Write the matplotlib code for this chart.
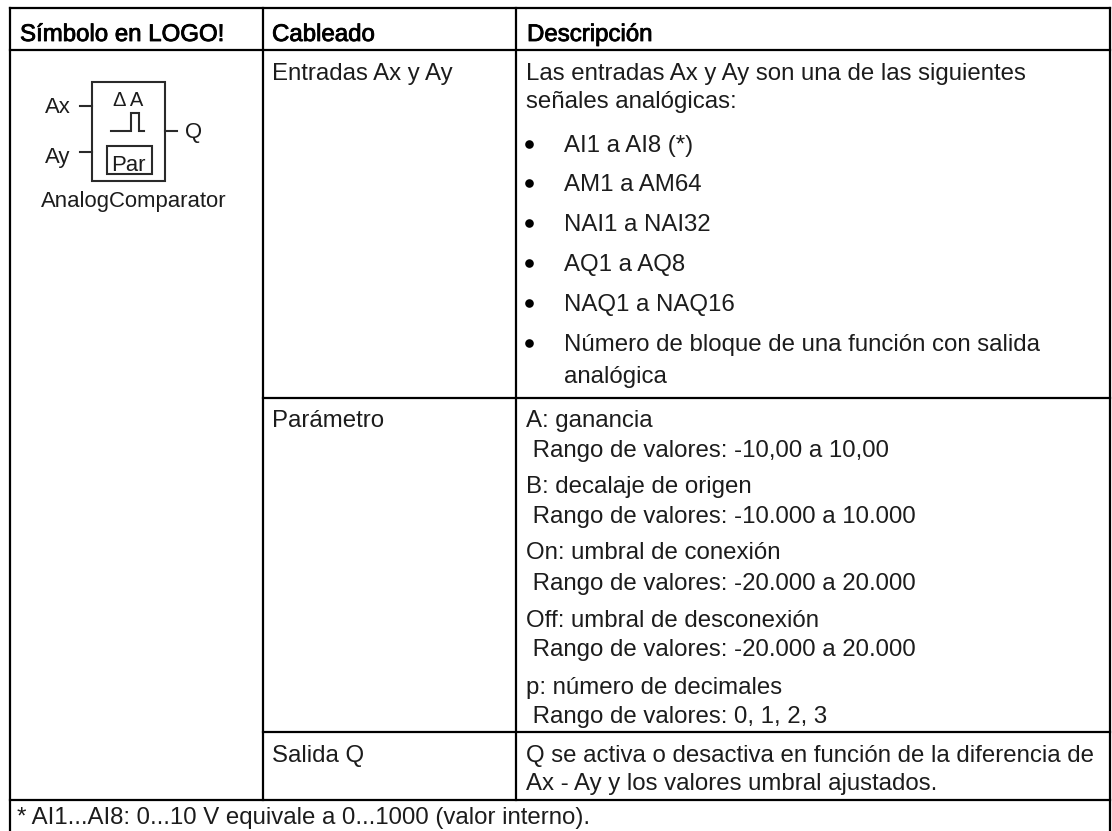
import matplotlib
matplotlib.use("Agg")
import matplotlib.pyplot as plt
import matplotlib.patheffects as pe
from matplotlib.patches import Rectangle

W, H = 1112, 831
FONT = "Liberation Sans"
SIZE = 17.3
SYMBOL_SIZE = 15.9
INK = "#1c1c1c"

header_labels = ["Símbolo en LOGO!", "Cableado", "Descripción"]
header_x = [20, 272, 527]
header_y = 41

wiring_labels = ["Entradas Ax y Ay", "Parámetro", "Salida Q"]
wiring_y = [80, 427, 762]
wiring_x = 272

desc_lines = [
    "Las entradas Ax y Ay son una de las siguientes",
    "señales analógicas:",
    "A: ganancia",
    " Rango de valores: -10,00 a 10,00",
    "B: decalaje de origen",
    " Rango de valores: -10.000 a 10.000",
    "On: umbral de conexión",
    " Rango de valores: -20.000 a 20.000",
    "Off: umbral de desconexión",
    " Rango de valores: -20.000 a 20.000",
    "p: número de decimales",
    " Rango de valores: 0, 1, 2, 3",
    "Q se activa o desactiva en función de la diferencia de",
    "Ax - Ay y los valores umbral ajustados.",
]
desc_y = [80, 108, 427, 457, 493, 523, 559, 590, 627, 656, 694, 723, 762, 790]
desc_x = 526

bullet_lines = ["AI1 a AI8 (*)", "AM1 a AM64", "NAI1 a NAI32", "AQ1 a AQ8", "NAQ1 a NAQ16",
                "Número de bloque de una función con salida"]
bullet_y = [152, 191, 231, 271, 311, 351]
bullet_cont = "analógica"
bullet_cont_y = 383
bullet_x = 529
bullet_text_x = 564

footnote = "* AI1...AI8: 0...10 V equivale a 0...1000 (valor interno)."
footnote_y = 824

x_left, x_col2, x_col3, x_right = 9.5, 262.5, 516, 1110
y_top, y_head, y_row1, y_row2, y_row3 = 8, 50, 398, 732, 799.5

fig = plt.figure(figsize=(W / 100, H / 100), dpi=100)
ax = fig.add_axes([0, 0, 1, 1])
ax.set_xlim(0, W)
ax.set_ylim(H, 0)
ax.axis("off")


def put(x, y, s, size=SIZE, stroke=0, ha="left"):
    t = ax.text(x, y, s, family=FONT, fontsize=size, color=INK if not stroke else "black",
                ha=ha, va="baseline")
    if stroke:
        t.set_path_effects([pe.withStroke(linewidth=stroke, foreground="black")])
    return t


# table rules
for x0, x1, y in [(x_left, x_right, y_top), (x_left, x_right, y_head),
                  (x_col2, x_right, y_row1), (x_col2, x_right, y_row2),
                  (x_left, x_right, y_row3)]:
    ax.plot([x0, x1], [y, y], color="black", lw=1.6, solid_capstyle="projecting")
for x, y0, y1 in [(x_left, y_top, H), (x_right, y_top, H),
                  (x_col2, y_top, y_row3), (x_col3, y_top, y_row3)]:
    ax.plot([x, x], [y0, y1], color="black", lw=1.6, solid_capstyle="projecting")

for x, s in zip(header_x, header_labels):
    put(x, header_y, s, stroke=0.6)
for y, s in zip(wiring_y, wiring_labels):
    put(wiring_x, y, s)
for y, s in zip(desc_y, desc_lines):
    put(desc_x, y, s)
for y, s in zip(bullet_y, bullet_lines):
    ax.plot([bullet_x], [y - 8.5], "o", color="black", ms=6.2, mew=0)
    put(bullet_text_x, y, s)
put(bullet_text_x, bullet_cont_y, bullet_cont)
put(17, footnote_y, footnote)

# LOGO! block symbol
LW = 1.5
DARK = "#2a2a2a"
ax.add_patch(Rectangle((92, 82), 73, 99, fill=False, ec=DARK, lw=LW))
ax.add_patch(Rectangle((107, 146), 45, 28, fill=False, ec=DARK, lw=LW))
for xs, ys in [([80, 92], [106, 106]), ([80, 92], [152, 152]), ([165, 177], [131, 131]),
               ([111, 131, 131, 139, 139, 144], [131, 131, 113, 113, 131, 131])]:
    ax.plot(xs, ys, color=DARK, lw=LW, solid_joinstyle="miter")
put(45, 113, "Ax", size=SYMBOL_SIZE)
put(45, 163, "Ay", size=SYMBOL_SIZE)
put(185, 138, "Q", size=SYMBOL_SIZE)
put(128, 106, "Δ A", size=14.5, ha="center")
put(128, 171, "Par", size=SYMBOL_SIZE, ha="center")
put(41, 207, "AnalogComparator", size=SYMBOL_SIZE)

fig.savefig("out.png", dpi=100)
